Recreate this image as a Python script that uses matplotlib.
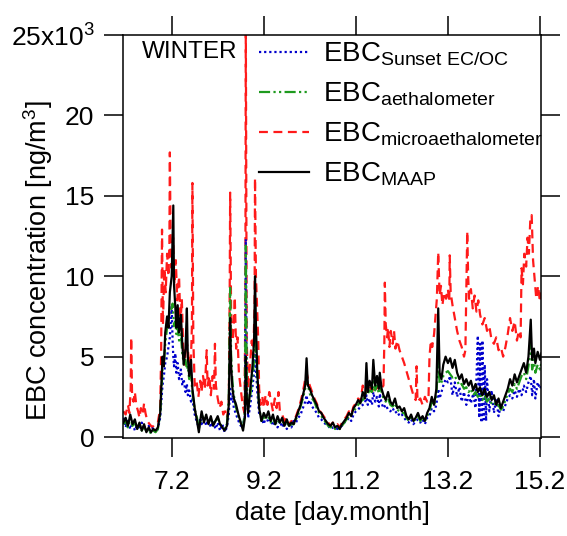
import matplotlib
matplotlib.use("Agg")
import matplotlib.pyplot as plt
import numpy as np

plt.rcParams['font.family'] = ['Liberation Sans', 'DejaVu Sans']
plt.rcParams['mathtext.fontset'] = 'custom'
plt.rcParams['mathtext.rm'] = 'Liberation Sans'
plt.rcParams['mathtext.it'] = 'Liberation Sans:italic'
plt.rcParams['mathtext.bf'] = 'Liberation Sans:bold'

# time axis shared by MAAP, aethalometer and Sunset (day.month, February)
day = [6.15, 6.20, 6.25, 6.30, 6.35, 6.40, 6.45, 6.50, 6.55, 6.60,
       6.65, 6.70, 6.75, 6.80, 6.85, 6.90, 6.95, 6.98, 7.00, 7.03,
       7.06, 7.10, 7.13, 7.16, 7.20, 7.22, 7.235, 7.25, 7.28, 7.30,
       7.33, 7.36, 7.40, 7.43, 7.46, 7.50, 7.53, 7.55, 7.58, 7.62,
       7.65, 7.70, 7.75, 7.79, 7.82, 7.85, 7.90, 7.95, 8.00, 8.05,
       8.10, 8.15, 8.20, 8.25, 8.30, 8.35, 8.40, 8.44, 8.47, 8.49,
       8.52, 8.55, 8.60, 8.65, 8.70, 8.75, 8.79, 8.81, 8.83, 8.86,
       8.90, 8.95, 8.99, 9.01, 9.03, 9.06, 9.10, 9.15, 9.20, 9.25,
       9.30, 9.35, 9.40, 9.45, 9.50, 9.55, 9.60, 9.65, 9.70, 9.75,
       9.80, 9.85, 9.90, 9.95, 10.00, 10.05, 10.10, 10.13, 10.16, 10.20,
       10.25, 10.30, 10.35, 10.40, 10.45, 10.50, 10.55, 10.60, 10.65, 10.70,
       10.75, 10.80, 10.85, 10.90, 10.95, 11.00, 11.05, 11.10, 11.15, 11.20,
       11.25, 11.30, 11.35, 11.40, 11.43, 11.46, 11.50, 11.55, 11.58, 11.62,
       11.66, 11.70, 11.72, 11.76, 11.80, 11.85, 11.90, 11.95, 12.00, 12.05,
       12.10, 12.15, 12.20, 12.25, 12.30, 12.35, 12.40, 12.45, 12.50, 12.55,
       12.60, 12.65, 12.70, 12.75, 12.80, 12.85, 12.90, 12.95, 12.99, 13.02,
       13.06, 13.10, 13.15, 13.20, 13.25, 13.30, 13.35, 13.40, 13.45, 13.50,
       13.55, 13.60, 13.65, 13.70, 13.75, 13.80, 13.85, 13.88, 13.90, 13.93,
       13.95, 13.98, 14.00, 14.03, 14.05, 14.10, 14.15, 14.20, 14.25, 14.30,
       14.35, 14.40, 14.45, 14.50, 14.55, 14.60, 14.65, 14.70, 14.75, 14.80,
       14.85, 14.90, 14.95, 15.00, 15.03, 15.07, 15.10, 15.15, 15.20, 15.23]

# EBC in 10^3 ng/m3
maap = [0.9, 1.2, 0.7, 1.4, 0.8, 1.1, 0.5, 0.9, 0.4, 0.8,
        0.3, 0.6, 0.3, 0.5, 0.4, 0.6, 1.5, 3.5, 5.0, 4.4,
        6.5, 7.5, 6.8, 9.0, 10.0, 12.5, 14.4, 9.5, 8.0, 6.8,
        8.2, 6.5, 7.6, 5.8, 4.5, 5.5, 8.0, 5.0, 3.8, 4.8,
        3.0, 1.8, 1.0, 0.3, 1.0, 1.6, 0.9, 1.4, 0.8, 1.3,
        0.7, 1.0, 1.3, 0.8, 0.6, 0.4, 0.7, 2.0, 7.4, 4.5,
        3.0, 2.4, 2.0, 1.4, 0.9, 0.4, 1.2, 5.0, 2.5, 1.5,
        2.8, 4.2, 6.0, 10.0, 7.0, 4.0, 1.8, 1.0, 1.5, 1.2,
        1.6, 1.0, 1.4, 0.8, 1.3, 0.9, 1.2, 0.7, 1.1, 0.7,
        0.9, 0.8, 1.2, 1.6, 2.0, 2.6, 3.2, 4.9, 3.2, 3.0,
        2.6, 2.3, 2.0, 1.6, 1.5, 1.2, 1.0, 0.8, 0.7, 0.9,
        0.6, 0.7, 0.5, 0.8, 1.0, 1.2, 1.5, 1.3, 1.8, 2.0,
        2.3, 2.1, 2.8, 2.4, 4.6, 2.8, 3.5, 3.0, 4.8, 3.2,
        3.8, 3.0, 4.0, 3.0, 2.6, 2.3, 2.8, 2.2, 2.0, 2.4,
        1.8, 1.9, 1.6, 1.8, 1.3, 1.1, 1.4, 1.0, 1.2, 1.5,
        1.1, 1.3, 1.0, 1.5, 1.8, 2.5, 2.0, 3.0, 8.0, 4.0,
        3.6, 4.5, 5.0, 4.6, 4.9, 4.3, 4.8, 4.0, 3.6, 3.9,
        3.3, 3.6, 3.2, 3.5, 2.9, 3.3, 2.8, 3.0, 3.1, 2.7,
        2.6, 2.9, 3.0, 2.6, 2.5, 2.8, 2.3, 2.6, 2.0, 2.4,
        1.8, 2.2, 2.6, 3.0, 3.6, 3.2, 3.9, 3.4, 3.8, 4.2,
        4.6, 4.0, 5.0, 7.3, 4.8, 5.5, 4.6, 5.3, 4.8, 5.2]

aeth = [0.8, 1.0, 0.6, 1.2, 0.7, 0.9, 0.5, 0.8, 0.4, 0.7,
        0.3, 0.5, 0.2, 0.4, 0.3, 0.5, 1.4, 3.0, 4.2, 4.6,
        5.8, 6.8, 7.4, 7.8, 8.0, 8.3, 7.6, 6.9, 7.2, 6.4,
        6.8, 6.0, 6.4, 5.2, 4.6, 4.8, 4.2, 4.4, 3.6, 3.9,
        2.8, 1.7, 1.2, 0.5, 0.9, 1.4, 1.1, 1.2, 0.9, 1.1,
        0.8, 1.0, 1.2, 0.8, 0.7, 0.5, 0.8, 2.4, 9.4, 5.2,
        3.4, 2.6, 1.8, 1.3, 0.9, 0.6, 1.6, 11.9, 3.5, 1.8,
        2.4, 3.6, 4.8, 6.6, 5.2, 3.8, 1.8, 1.0, 1.3, 1.1,
        1.2, 0.9, 1.2, 0.8, 1.1, 0.9, 1.0, 0.8, 0.9, 0.7,
        0.8, 0.8, 1.1, 1.4, 1.9, 2.4, 3.0, 3.6, 3.2, 2.7,
        2.4, 2.2, 1.8, 1.5, 1.3, 1.1, 0.9, 0.7, 0.6, 0.7,
        0.5, 0.6, 0.5, 0.7, 0.9, 1.1, 1.3, 1.4, 1.6, 1.8,
        2.0, 2.2, 2.3, 2.5, 3.0, 2.7, 2.9, 2.8, 3.6, 2.9,
        3.2, 2.7, 3.3, 2.8, 2.4, 2.2, 2.4, 2.0, 1.9, 2.1,
        1.7, 1.6, 1.5, 1.5, 1.2, 1.0, 1.2, 1.0, 1.1, 1.3,
        1.0, 1.2, 1.0, 1.3, 1.6, 2.2, 2.0, 2.6, 5.0, 3.3,
        3.4, 3.8, 4.0, 4.1, 3.9, 3.7, 3.8, 3.5, 3.2, 3.3,
        3.0, 3.1, 2.8, 3.0, 2.6, 2.8, 2.5, 2.6, 2.7, 2.4,
        2.3, 2.5, 2.6, 2.3, 2.2, 2.4, 2.1, 2.2, 1.9, 2.0,
        1.7, 1.9, 2.3, 2.7, 3.0, 2.8, 3.3, 3.0, 3.4, 3.8,
        4.0, 3.6, 4.4, 5.8, 4.2, 4.8, 4.0, 4.5, 4.2, 4.6]

sunset = [1.2, 0.6, 1.1, 0.5, 0.9, 0.4, 0.8, 0.5, 0.9, 0.6,
          0.4, 0.7, 0.3, 0.6, 0.3, 0.5, 1.2, 2.4, 3.2, 3.8,
          4.6, 5.0, 5.6, 6.2, 8.1, 6.0, 5.0, 4.4, 5.2, 4.0,
          4.6, 3.6, 4.2, 3.2, 3.6, 2.8, 3.3, 2.6, 2.9, 2.2,
          2.4, 1.4, 0.9, 0.6, 1.2, 0.8, 1.3, 0.7, 1.1, 0.6,
          1.0, 0.5, 0.9, 0.4, 0.8, 0.3, 0.6, 1.4, 3.0, 2.2,
          2.6, 1.8, 1.4, 1.0, 0.7, 0.8, 1.3, 12.3, 3.0, 1.2,
          1.8, 3.0, 4.0, 5.2, 4.2, 2.8, 1.4, 1.2, 0.8, 1.3,
          0.9, 1.1, 0.7, 1.0, 0.6, 1.0, 0.6, 0.9, 0.5, 0.8,
          0.6, 1.0, 0.9, 1.2, 1.4, 1.8, 2.2, 2.6, 2.0, 2.3,
          1.9, 1.7, 1.5, 1.2, 1.1, 0.9, 0.8, 0.7, 0.5, 0.6,
          0.6, 0.5, 0.6, 0.7, 0.9, 1.0, 1.2, 1.0, 1.4, 1.6,
          1.7, 1.9, 2.0, 2.1, 2.6, 2.0, 2.4, 2.0, 2.8, 2.2,
          2.5, 1.9, 2.7, 2.1, 1.8, 2.0, 1.7, 1.6, 1.8, 1.5,
          1.6, 1.3, 1.4, 1.2, 1.0, 0.9, 1.1, 0.8, 1.0, 1.1,
          0.9, 1.1, 0.8, 1.2, 1.3, 1.8, 1.6, 2.0, 3.0, 2.4,
          2.8, 3.2, 3.6, 3.4, 3.8, 2.6, 3.4, 2.5, 3.1, 2.2,
          2.8, 2.0, 2.6, 2.1, 2.7, 1.8, 6.3, 1.2, 5.8, 0.9,
          6.0, 1.1, 4.5, 1.0, 3.6, 1.6, 2.9, 1.5, 2.4, 1.3,
          2.0, 1.6, 2.0, 2.4, 2.6, 2.4, 2.9, 2.5, 3.0, 2.6,
          3.2, 2.8, 3.4, 3.8, 2.6, 3.6, 2.4, 3.4, 3.0, 3.2]

# microaethalometer has its own time stamps
micro_day = [6.15, 6.20, 6.25, 6.28, 6.31, 6.32, 6.34, 6.37, 6.40, 6.43,
             6.47, 6.50, 6.53, 6.57, 6.60, 6.63, 6.67, 6.72, 6.78, 6.85,
             6.90, 6.95, 6.97, 6.99, 7.01, 7.04, 7.07, 7.10, 7.13, 7.15,
             7.16, 7.18, 7.20, 7.23, 7.26, 7.29, 7.32, 7.36, 7.39, 7.42,
             7.45, 7.48, 7.52, 7.55, 7.58, 7.62, 7.64, 7.65, 7.67, 7.70,
             7.74, 7.78, 7.82, 7.85, 7.88, 7.92, 7.96, 7.98, 8.02, 8.05,
             8.09, 8.12, 8.14, 8.16, 8.20, 8.24, 8.28, 8.32, 8.36, 8.40,
             8.44, 8.46, 8.47, 8.49, 8.52, 8.55, 8.57, 8.60, 8.63, 8.66,
             8.70, 8.74, 8.78, 8.80, 8.81, 8.83, 8.86, 8.90, 8.94, 8.97,
             9.00, 9.01, 9.03, 9.05, 9.08, 9.10, 9.13, 9.17, 9.20, 9.24,
             9.28, 9.32, 9.36, 9.40, 9.44, 9.48, 9.52, 9.55, 9.60, 9.65,
             9.70, 9.75, 9.80, 9.85, 9.90, 9.95, 10.00, 10.05, 10.10, 10.13,
             10.16, 10.20, 10.25, 10.30, 10.35, 10.40, 10.45, 10.50, 10.55, 10.60,
             10.65, 10.70, 10.75, 10.80, 10.85, 10.90, 10.95, 11.00, 11.05, 11.10,
             11.15, 11.20, 11.25, 11.30, 11.35, 11.40, 11.45, 11.50, 11.55, 11.60,
             11.65, 11.70, 11.75, 11.80, 11.82, 11.83, 11.85, 11.88, 11.90, 11.93,
             11.96, 12.00, 12.03, 12.06, 12.10, 12.15, 12.20, 12.25, 12.30, 12.35,
             12.40, 12.45, 12.50, 12.52, 12.54, 12.60, 12.65, 12.70, 12.75, 12.78,
             12.80, 12.83, 12.86, 12.90, 12.93, 12.96, 12.99, 13.02, 13.05, 13.08,
             13.12, 13.16, 13.20, 13.23, 13.24, 13.26, 13.30, 13.35, 13.40, 13.45,
             13.50, 13.55, 13.58, 13.62, 13.64, 13.66, 13.70, 13.74, 13.78, 13.82,
             13.86, 13.90, 13.95, 14.00, 14.05, 14.10, 14.15, 14.20, 14.25, 14.30,
             14.35, 14.40, 14.45, 14.50, 14.55, 14.60, 14.65, 14.70, 14.74, 14.78,
             14.80, 14.83, 14.86, 14.90, 14.93, 14.96, 14.99, 15.02, 15.05, 15.08,
             15.12, 15.16, 15.20, 15.23]

micro = [1.6, 1.4, 2.0, 1.5, 3.0, 6.2, 2.5, 2.2, 2.8, 2.0,
         1.6, 1.2, 1.8, 1.4, 2.1, 1.5, 1.0, 0.8, 0.6, 0.9,
         0.9, 1.8, 5.0, 12.9, 7.0, 10.5, 9.0, 11.4, 10.0, 12.0,
         17.7, 11.0, 10.5, 12.4, 9.5, 11.0, 8.5, 10.0, 7.0, 8.6,
         5.5, 4.5, 6.0, 5.5, 4.5, 5.0, 7.0, 15.8, 6.0, 3.2,
         3.5, 2.5, 3.5, 2.8, 3.8, 3.0, 5.4, 3.2, 3.8, 2.6,
         3.8, 3.0, 5.8, 3.2, 2.4, 1.8, 2.2, 1.4, 1.6, 1.2,
         2.0, 9.0, 15.2, 8.0, 6.0, 7.0, 8.7, 5.5, 6.2, 4.0,
         3.0, 2.0, 1.5, 8.0, 25.8, 6.0, 3.0, 4.5, 6.0, 5.0,
         8.0, 16.1, 10.0, 8.5, 6.0, 3.0, 2.0, 2.5, 1.8, 2.6,
         2.0, 2.8, 2.2, 1.6, 2.4, 1.8, 2.8, 1.6, 1.4, 1.0,
         1.2, 0.8, 1.0, 0.9, 1.3, 1.7, 2.2, 2.8, 3.6, 4.0,
         3.6, 3.2, 2.8, 2.4, 2.1, 1.7, 1.5, 1.3, 1.1, 0.9,
         0.7, 0.9, 0.7, 0.8, 0.6, 0.9, 1.1, 1.3, 1.6, 1.4,
         1.9, 2.1, 2.4, 2.2, 3.2, 2.6, 3.0, 3.2, 2.8, 3.2,
         3.0, 3.3, 3.0, 3.2, 6.0, 9.6, 7.0, 6.2, 6.8, 5.6,
         6.6, 5.8, 6.6, 5.5, 6.0, 5.4, 5.0, 4.6, 4.1, 3.6,
         3.1, 2.6, 2.3, 4.4, 2.2, 2.4, 2.0, 2.5, 2.2, 2.6,
         5.0, 6.0, 5.6, 6.4, 7.5, 8.6, 11.5, 8.8, 9.4, 8.2,
         9.0, 8.6, 9.2, 8.4, 11.3, 9.0, 8.2, 7.4, 6.6, 6.0,
         5.6, 5.0, 5.4, 12.8, 10.0, 8.6, 9.2, 8.0, 8.8, 7.8,
         8.5, 7.6, 7.0, 7.4, 6.6, 6.9, 6.0, 5.8, 6.2, 5.4,
         5.6, 5.0, 5.6, 6.4, 7.4, 6.6, 7.2, 6.0, 6.6, 6.2,
         10.5, 9.5, 11.4, 10.6, 12.4, 11.4, 13.5, 13.8, 11.0, 10.0,
         8.6, 9.4, 8.4, 9.0]

yticks = [0, 5, 10, 15, 20, 25]
yticklabels = ['0', '5', '10', '15', '20', '25x10$^{3}$']
xticks = [7.2, 9.2, 11.2, 13.2, 15.2]
xticklabels = ['7.2', '9.2', '11.2', '13.2', '15.2']

fig = plt.figure(figsize=(5.67, 5.36), dpi=100)
ax = fig.add_axes([0.2178, 0.1828, 0.7372, 0.7519])

lw = 1.6
l_mic, = ax.plot(micro_day, np.array(micro) * 1e3, color='#ff1a1a', lw=lw,
                 dashes=(4, 2.5), label=r'EBC$_{\mathrm{microaethalometer}}$')
l_sun, = ax.plot(day, np.array(sunset) * 1e3, color='#0000cc', lw=lw,
                 dashes=(1, 1.3), label=r'EBC$_{\mathrm{Sunset\ EC/OC}}$')
l_aet, = ax.plot(day, np.array(aeth) * 1e3, color='#1e9a1e', lw=lw,
                 dashes=(5, 1.5, 1, 1.5, 1, 1.5), label=r'EBC$_{\mathrm{aethalometer}}$')
l_maap, = ax.plot(day, np.array(maap) * 1e3, color='black', lw=lw,
                  label=r'EBC$_{\mathrm{MAAP}}$')

ax.set_xlim(6.153, 15.233)
ax.set_ylim(-60, 25000)
ax.set_xticks(xticks)
ax.set_xticklabels(xticklabels)
ax.set_yticks([v * 1e3 for v in yticks])
ax.set_yticklabels(yticklabels)
ax.tick_params(direction='out', length=14, width=1.1, top=True, right=True,
               labelsize=19)
ax.tick_params(axis='x', pad=9)
ax.tick_params(axis='y', pad=7)
for s in ax.spines.values():
    s.set_linewidth(1.1)

ax.set_xlabel('date [day.month]', fontsize=19, labelpad=5)
ax.set_ylabel('EBC concentration [ng/m$^{3}$]', fontsize=19.5)
ax.yaxis.set_label_coords(-0.165, 0.44)

ax.text(0.045, 0.985, 'WINTER', transform=ax.transAxes, fontsize=17.5,
        va='top', ha='left')
ax.legend(handles=[l_sun, l_aet, l_mic, l_maap], loc='upper left',
          bbox_to_anchor=(0.31, 1.0), frameon=False, fontsize=20,
          handlelength=1.8, handletextpad=0.5, labelspacing=0.45,
          borderaxespad=0, borderpad=0.2)

fig.savefig('out.png', dpi=100)
